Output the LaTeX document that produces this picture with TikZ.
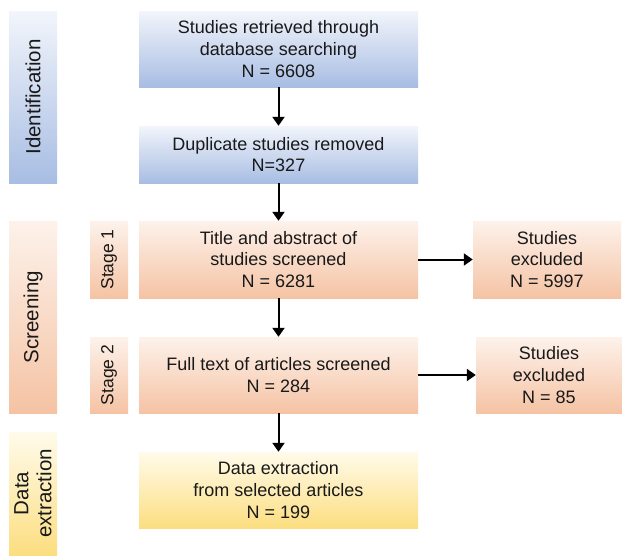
\documentclass[tikz,border=0pt]{standalone}
\usepackage{fontspec}
\setmainfont{Liberation Sans}
\usetikzlibrary{arrows.meta}
\definecolor{bTop}{RGB}{242,245,251}
\definecolor{bMid}{RGB}{192,207,235}
\definecolor{bBot}{RGB}{168,189,227}
\definecolor{oTop}{RGB}{253,242,235}
\definecolor{oMid}{RGB}{249,213,190}
\definecolor{oBot}{RGB}{245,195,164}
\definecolor{yTop}{RGB}{255,251,235}
\definecolor{yMid}{RGB}{254,234,170}
\definecolor{yBot}{RGB}{252,222,128}
\definecolor{txt}{RGB}{25,25,25}
\tikzset{
  box/.style={inner sep=0pt, align=center, text=txt, font=\fontsize{18}{21.6}\selectfont},
  bluebox/.style={box, top color=bTop, middle color=bMid, bottom color=bBot},
  orangebox/.style={box, top color=oTop, middle color=oMid, bottom color=oBot},
  yellowbox/.style={box, top color=yTop, middle color=yMid, bottom color=yBot},
  sidelabel/.style={font=\fontsize{20.5}{23}\selectfont, text=txt, align=center, rotate=90},
  stagelabel/.style={font=\fontsize{17.5}{21}\selectfont, text=txt, rotate=90},
  arr/.style={line width=2pt, draw=black, -{Triangle[length=9pt,width=12pt]}}
}
\begin{document}
\begin{tikzpicture}[x=1pt,y=-1pt]
\useasboundingbox (0,0) rectangle (622,555);
% side bars
\node[bluebox, minimum width=48pt, minimum height=172pt] (idbar) at (33,97) {};
\node[sidelabel] (idlab) at (idbar.center) {Identification};
\node[orangebox, minimum width=48pt, minimum height=192pt] (scbar) at (33,317) {};
\node[sidelabel] (sclab) at (scbar.center) {Screening};
\node[yellowbox, minimum width=48pt, minimum height=123pt] (debar) at (33,493.5) {};
\node[sidelabel] (delab) at (debar.center) {Data\\extraction};
% stage labels
\node[orangebox, minimum width=38pt, minimum height=77pt] (st1) at (109,259.5) {};
\node[stagelabel] (st1lab) at (st1.center) {Stage 1};
\node[orangebox, minimum width=38pt, minimum height=76pt] (st2) at (109,375) {};
\node[stagelabel] (st2lab) at (st2.center) {Stage 2};
% main boxes
\node[bluebox, minimum width=279pt, minimum height=76pt] (b1) at (278.5,49) {Studies retrieved through\\database searching\\N = 6608};
\node[bluebox, minimum width=279pt, minimum height=57pt] (b2) at (278.5,154.5) {Duplicate studies removed\\N=327};
\node[orangebox, minimum width=279pt, minimum height=77pt] (b3) at (278.5,259.5) {Title and abstract of\\studies screened\\N = 6281};
\node[orangebox, minimum width=279pt, minimum height=76pt] (b4) at (278.5,375) {Full text of articles screened\\N = 284};
\node[yellowbox, minimum width=279pt, minimum height=76pt] (b5) at (278.5,490) {Data extraction\\from selected articles\\N = 199};
% excluded
\node[orangebox, minimum width=148pt, minimum height=77pt] (e1) at (547,259.5) {Studies\\excluded\\N = 5997};
\node[orangebox, minimum width=146pt, minimum height=76pt] (e2) at (549,375) {Studies\\excluded\\N = 85};
% arrows
\draw[arr] (b1) -- (b2);
\draw[arr] (b2) -- (b3);
\draw[arr] (b3) -- (b4);
\draw[arr] (b4) -- (b5);
\draw[arr] (b3) -- (e1);
\draw[arr] (b4) -- (e2);
\end{tikzpicture}
\end{document}
